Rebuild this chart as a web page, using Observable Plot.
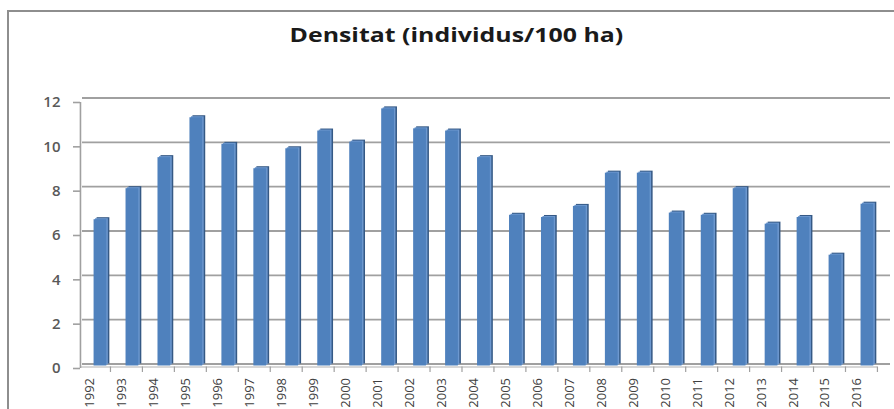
<!DOCTYPE html>
<html><head><meta charset="utf-8">
<script src="https://cdn.jsdelivr.net/npm/d3@7"></script>
<script src="https://cdn.jsdelivr.net/npm/@observablehq/plot@0.6"></script>
<style>
body{margin:0;background:#fff;}
#wrap{position:relative;width:894px;height:409px;overflow:hidden;background:#fff;}
#border{position:absolute;left:7px;top:10px;width:1000px;height:1000px;border-left:2px solid #8e8e8e;border-top:2px solid #8e8e8e;}
#title{position:relative;height:60px;box-sizing:border-box;padding-left:18px;padding-top:24px;text-align:center;font:700 19px "Open Sans",sans-serif;color:#1a1a1a;line-height:22px;}
#title span{display:inline-block;transform:scaleX(1.31);transform-origin:center;}
#chart{position:relative;}
#chart svg{display:block;}
</style></head>
<body><div id="wrap"><div id="border"></div><div id="title"><span>Densitat (individus/100 ha)</span></div><div id="chart"></div></div>
<script>
const years = ["1992","1993","1994","1995","1996","1997","1998","1999","2000","2001","2002","2003","2004","2005","2006","2007","2008","2009","2010","2011","2012","2013","2014","2015","2016"];
const density = [6.6, 8.0, 9.4, 11.2, 10.0, 8.9, 9.8, 10.6, 10.1, 11.6, 10.7, 10.6, 9.4, 6.8, 6.7, 7.2, 8.7, 8.7, 6.9, 6.8, 8.0, 6.4, 6.7, 5.0, 7.3];
const yTicks = [0, 2, 4, 6, 8, 10, 12];

const data = years.map((year, i) => ({year, value: density[i]}));

const chart = Plot.plot({
  width: 894,
  height: 349,
  marginTop: 37.5,
  marginBottom: 45.5,
  marginLeft: 74.4,
  marginRight: 1.5,
  style: {fontFamily: '"Open Sans", sans-serif', background: "transparent"},
  x: {domain: years, padding: 0.6, round: false, axis: null},
  y: {domain: [0, 12], axis: null},
  marks: [
    // back-wall gridlines
    Plot.ruleY(yTicks, {y: d => d, stroke: "#a0a0a0", strokeWidth: 1.8, insetLeft: 7.6, insetRight: 2.5}),
    // front floor edge
    Plot.ruleY([0], {y: d => d, stroke: "#b0b0b0", strokeWidth: 1.2, dy: 3, insetLeft: 5.6, insetRight: 15.5}),
    // front vertical axis
    Plot.ruleX([years[0]], {x: d => d, y1: 0, y2: 12, dx: -20, dy: 4.5, stroke: "#a0a0a0", strokeWidth: 1.6}),
    // y tick marks
    Plot.ruleY(yTicks, {y: d => d, dy: 4.5, insetLeft: -1.4, insetRight: 812.5, stroke: "#a0a0a0", strokeWidth: 1.6}),
    // x tick marks
    Plot.ruleX(years, {x: d => d, y1: 0, y2: 0.25, dx: 10, dy: 8.5, stroke: "#a0a0a0", strokeWidth: 1.2}),
    // bar side face
    Plot.barY(data, {x: "year", y: "value", fill: "#355985", dx: 3}),
    // bar top cap
    Plot.barY(data, {x: "year", y: "value", fill: "#6d98cf", dx: 1.5, dy: 1}),
    // bar front face
    Plot.barY(data, {x: "year", y: "value", fill: "#4f81bd", dy: 2}),
    // y labels
    Plot.text(yTicks, {y: d => d, text: d => String(d), frameAnchor: "left", textAnchor: "end", dx: -14.4, dy: 4.5, fontSize: 15, fontWeight: 600, fill: "#595959"}),
    // x labels
    Plot.text(years, {x: d => d, text: d => d, frameAnchor: "bottom", rotate: -90, textAnchor: "end", dx: -6, dy: 14, fontSize: 13, fill: "#404040"})
  ]
});
document.getElementById("chart").appendChild(chart);
</script>
</body></html>
